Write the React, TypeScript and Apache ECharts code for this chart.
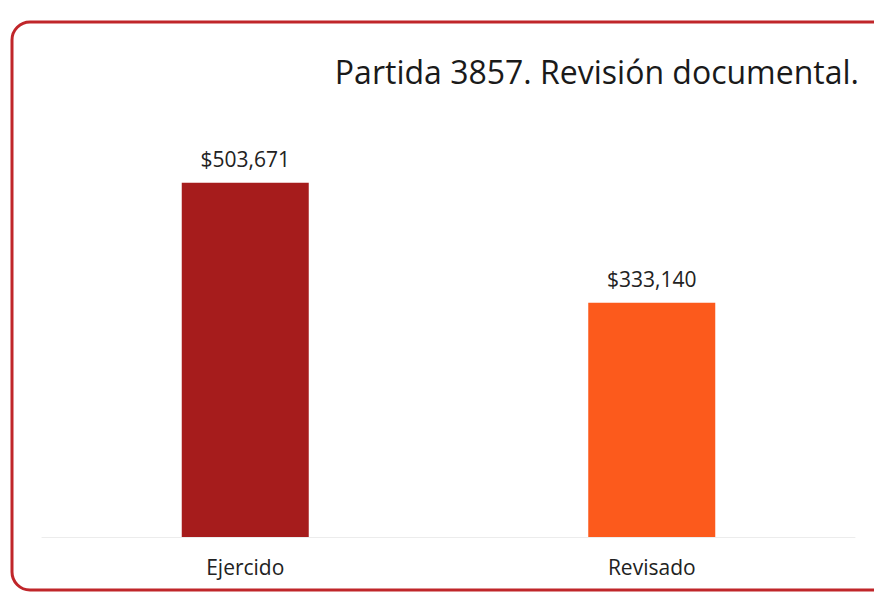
import React, { useEffect, useRef } from "react";
import * as echarts from "echarts";

const categories = ["Ejercido", "Revisado"];
const values = [503671, 333140];
const barColors = ["#a61c1c", "#fc5a1c"];
const titleText = "Partida 3857. Revisión documental.";

function fmt(v: number) {
  return "$" + v.toLocaleString("en-US");
}

export default function App() {
  const ref = useRef<HTMLDivElement>(null);
  useEffect(() => {
    if (!ref.current) return;
    const chart = echarts.init(ref.current, null, { renderer: "svg" });
    chart.setOption({
      animation: false,
      backgroundColor: "#ffffff",
      title: {
        text: titleText,
        right: 10,
        top: 50,
        textStyle: {
          fontFamily: "Open Sans",
          fontWeight: "normal",
          fontSize: 32,
          color: "#1a1a1a",
        },
      },
      graphic: [
        {
          type: "rect",
          shape: { x: 12, y: 22, width: 900, height: 568, r: 18 },
          style: { fill: "none", stroke: "#c0262a", lineWidth: 3 },
          z: 10,
        },
      ],
      grid: { left: 42, right: 19, top: 115, bottom: 62 },
      xAxis: {
        type: "category",
        data: categories,
        axisLine: { show: true, lineStyle: { color: "#ececec", width: 1 } },
        axisTick: { show: false },
        axisLabel: {
          fontFamily: "Open Sans",
          fontSize: 21,
          color: "#222",
          margin: 19,
        },
      },
      yAxis: {
        type: "value",
        min: 0,
        max: 600000,
        show: false,
        splitLine: { show: false },
      },
      series: [
        {
          type: "bar",
          data: values.map((v, i) => ({ value: v, itemStyle: { color: barColors[i] } })),
          barWidth: 127,
          label: {
            show: true,
            position: "top",
            distance: 13,
            formatter: (p: any) => fmt(p.value),
            fontFamily: "Open Sans",
            fontSize: 21,
            color: "#222",
          },
        },
      ],
    });
    return () => chart.dispose();
  }, []);
  return (
    <div
      ref={ref}
      style={{ position: "fixed", left: 0, top: 0, width: 874, height: 599, background: "#fff" }}
    />
  );
}
